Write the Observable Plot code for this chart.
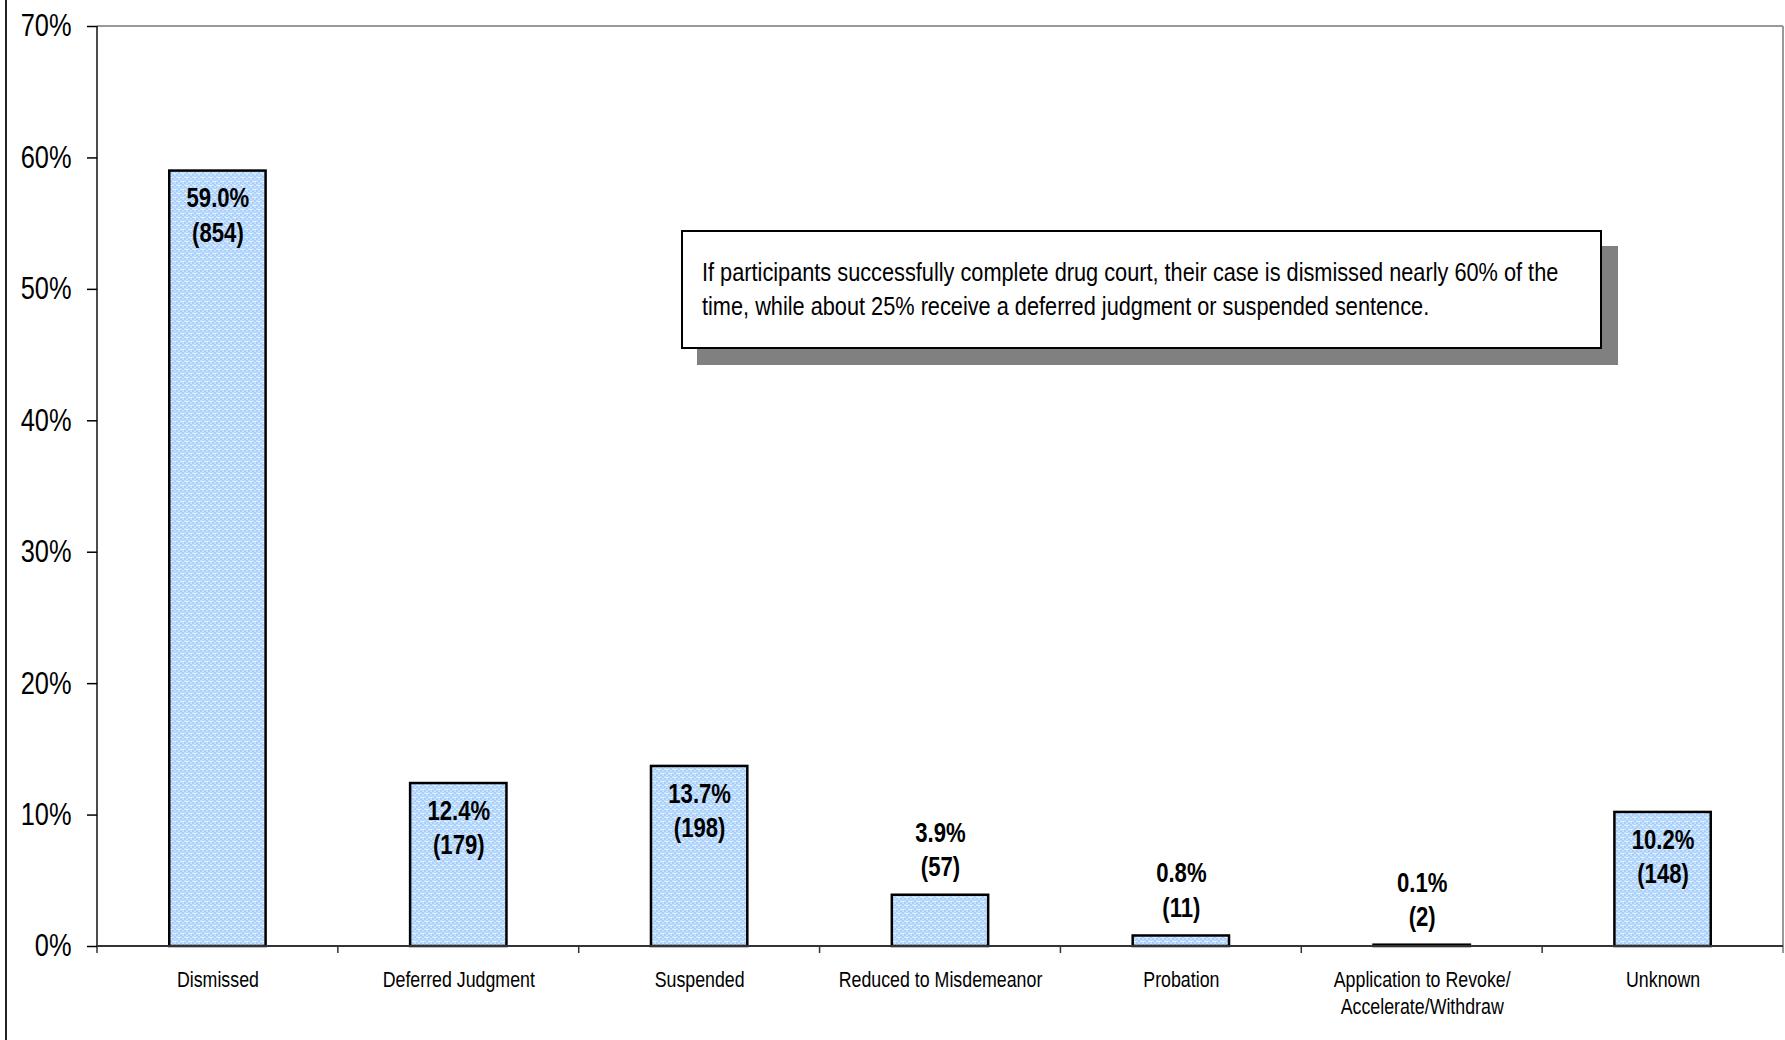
<!DOCTYPE html>
<html>
<head>
<meta charset="utf-8">
<script src="https://cdn.jsdelivr.net/npm/d3@7"></script>
<script src="https://cdn.jsdelivr.net/npm/@observablehq/plot@0.6"></script>
<style>
  html, body { margin: 0; padding: 0; background: #fff; overflow: hidden; }
  #chart { position: relative; width: 1785px; height: 1040px; }
  #chart svg { display: block; }
  .outer-edge { position: absolute; left: 5px; top: 0; width: 2px; height: 1040px; background: #222; }
  .note {
    position: absolute; left: 681px; top: 230px; width: 921px; height: 119px;
    box-sizing: border-box; border: 2px solid #000; background: #fff;
    box-shadow: 16px 16px 0 #808080;
    padding: 23px 0 0 19px; overflow: hidden;
  }
  .note span {
    display: block; width: 1100px; white-space: pre-line;
    transform: scaleX(0.82); transform-origin: 0 0;
    font-family: "Liberation Sans", Arial, sans-serif;
    font-size: 26.5px; line-height: 34px; color: #000;
  }
</style>
</head>
<body>
<div id="chart">
  <div class="outer-edge"></div>
</div>
<script>
// Case outcomes after successful drug court completion
const categories = [
  "Dismissed",
  "Deferred Judgment",
  "Suspended",
  "Reduced to Misdemeanor",
  "Probation",
  "Application to Revoke/\nAccelerate/Withdraw",
  "Unknown"
];
const percents = [59.0, 12.4, 13.7, 3.9, 0.8, 0.1, 10.2];
const counts = [854, 179, 198, 57, 11, 2, 148];
const yTicks = [0, 10, 20, 30, 40, 50, 60, 70];
const noteLines = [
  "If participants successfully complete drug court, their case is dismissed nearly 60% of the",
  "time, while about 25% receive a deferred judgment or suspended sentence."
];

const rows = categories.map((cat, i) => ({cat, pct: percents[i], n: counts[i]}));
const labelOf = d => `${d.pct.toFixed(1)}%\n(${d.n})`;

// Narrow lettering: Arial-metric glyphs squeezed horizontally
const fontFamily = '"Liberation Sans", Arial, sans-serif';
const squeeze = 0.82;

// Plot border, axis lines and category boundary ticks
function plotFurniture(index, scales, values, dims) {
  const {x} = scales;
  const {width, height, marginTop, marginRight, marginBottom, marginLeft} = dims;
  const left = marginLeft, right = width - marginRight;
  const top = marginTop, bottom = height - marginBottom;
  const bw = typeof x.bandwidth === "function" ? x.bandwidth() : 0;
  const centers = categories.map(c => x(c) + bw / 2);
  const step = centers[1] - centers[0];
  const bounds = centers.map(c => c - step / 2).concat(centers[centers.length - 1] + step / 2);
  const g = d3.create("svg:g");
  const line = (x1, y1, x2, y2, stroke, w) =>
    g.append("line").attr("x1", x1).attr("y1", y1).attr("x2", x2).attr("y2", y2)
      .attr("stroke", stroke).attr("stroke-width", w);
  for (const b of bounds) line(b, bottom, b, bottom + 7, "#333", 1.5);
  line(left, top, right, top, "#999", 2);
  line(right, top, right, bottom + 7, "#999", 2);
  line(left, top, left, bottom, "#111", 1.5);
  line(left, bottom, right, bottom, "#333", 2);
  return g.node();
}

const chart = Plot.plot({
  width: 1785,
  height: 1040,
  marginLeft: 97,
  marginRight: 2,
  marginTop: 26,
  marginBottom: 94,
  style: {fontFamily, color: "#000", background: "#fff"},
  x: {domain: categories, paddingInner: 0.6, paddingOuter: 0.3, round: false},
  y: {domain: [0, 70]},
  marks: [
    Plot.barY(rows, {x: "cat", y: "pct", fill: "url(#barPattern)", stroke: "#000", strokeWidth: 2.5}),
    plotFurniture,
    Plot.axisY({ticks: yTicks, tickFormat: d => `${d}%`, tickSize: 10, tickPadding: 16,
      fontSize: 31, label: null, strokeWidth: 1.5}),
    Plot.axisX({tickSize: 0, tickPadding: 20.5, fontSize: 21.7, lineHeight: 1.27, label: null}),
    Plot.text(rows, {filter: d => d.pct >= 10, x: "cat", y: "pct", text: labelOf,
      lineAnchor: "middle", dy: 42.5, fontSize: 27, fontWeight: "bold", lineHeight: 1.27, fill: "#000"}),
    Plot.text(rows, {filter: d => d.pct < 10, x: "cat", y: "pct", text: labelOf,
      lineAnchor: "middle", dy: -47.5, fontSize: 27, fontWeight: "bold", lineHeight: 1.27, fill: "#000"})
  ]
});

// Squeeze every label around its own anchor point
for (const t of chart.querySelectorAll("text")) {
  const tr = t.getAttribute("transform") || "";
  const ax = +t.getAttribute("x") || 0;
  t.setAttribute("transform", `${tr} translate(${ax},0) scale(${squeeze},1) translate(${-ax},0)`.trim());
}

// Light blue bar fill with a fine checker-and-dash texture
const defs = d3.select(chart).insert("defs", ":first-child");
const pat = defs.append("pattern").attr("id", "barPattern")
  .attr("patternUnits", "userSpaceOnUse").attr("width", 8).attr("height", 8);
pat.append("rect").attr("width", 8).attr("height", 8).attr("fill", "#a9cffb");
for (const [px, py] of [[0, 0], [4, 0], [2, 2], [6, 2], [0, 4], [4, 4], [2, 6], [6, 6]]) {
  pat.append("rect").attr("x", px).attr("y", py).attr("width", 2).attr("height", 2).attr("fill", "#c6e1fe");
}
for (const [px, py] of [[1, 1], [5, 5]]) {
  pat.append("rect").attr("x", px).attr("y", py).attr("width", 3).attr("height", 1).attr("fill", "#ecf5ff");
}

const host = document.getElementById("chart");
host.insertBefore(chart, host.firstChild);

const note = document.createElement("div");
note.className = "note";
const noteSpan = document.createElement("span");
noteSpan.textContent = noteLines.join("\n");
note.appendChild(noteSpan);
host.appendChild(note);
</script>
</body>
</html>
